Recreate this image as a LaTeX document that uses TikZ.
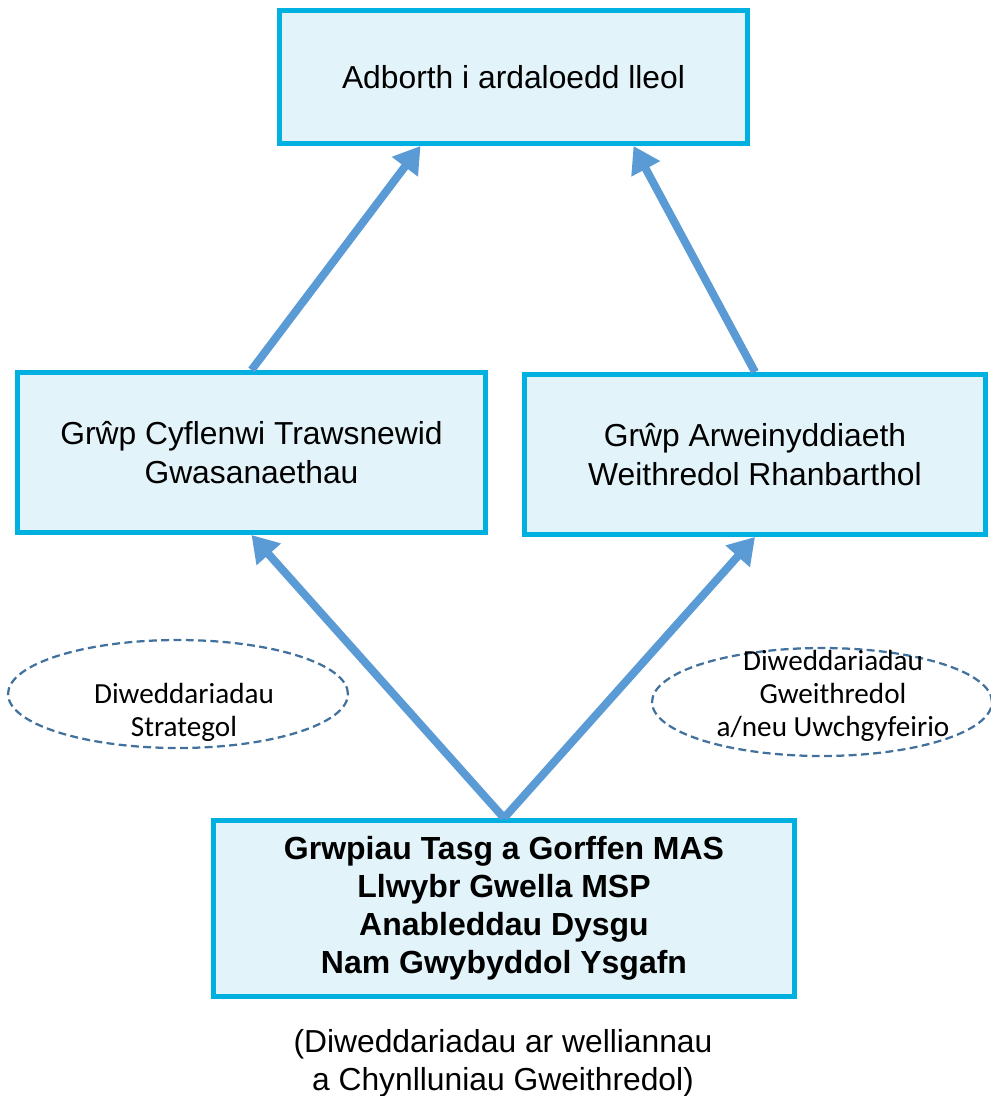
\documentclass[tikz,border=0pt]{standalone}
\usepackage{fontspec}
\setmainfont{Liberation Sans}
\newfontfamily\notefont{Carlito}
\usetikzlibrary{arrows.meta,calc,shapes.geometric}

\begin{document}
\begin{tikzpicture}[x=0.02cm,y=-0.02cm,
  groupbox/.style={shape=rectangle,draw=grp_border,fill=grp_fill,line width=0.1cm,align=center,
    font=\fontsize{18.1}{22.6}\selectfont},
  upflow/.style={-{Triangle[length=0.52cm,width=0.62cm]},line width=0.16cm,color=grp_arrow},
  noteoval/.style={shape=ellipse,draw=grp_note,dash pattern=on 4.5pt off 2.5pt,line width=0.045cm,inner sep=0pt,
    minimum width=6.8cm,minimum height=2.16cm},
  notetext/.style={align=center,font=\notefont\fontsize{16.6}{18.8}\selectfont}]
\definecolor{grp_border}{RGB}{0,176,224}
\definecolor{grp_fill}{RGB}{226,244,250}
\definecolor{grp_arrow}{RGB}{91,155,213}
\definecolor{grp_note}{RGB}{65,113,156}
\useasboundingbox (0,0) rectangle (991,1096);

\node[groupbox,minimum width=9.36cm,minimum height=2.66cm] (adborth) at (513.5,77) {Adborth i ardaloedd lleol};
\node[groupbox,minimum width=9.36cm,minimum height=3.2cm] (cyflenwi) at (251.5,452.5) {Grŵp Cyflenwi Trawsnewid\\Gwasanaethau};
\node[groupbox,minimum width=9.22cm,minimum height=3.2cm] (arwein) at (755,454.5) {Grŵp Arweinyddiaeth\\Weithredol Rhanbarthol};
\node[groupbox,minimum width=11.62cm,minimum height=3.52cm,font=\bfseries\fontsize{18.2}{21.6}\selectfont] (tasg) at (504,908.5)
  {Grwpiau Tasg a Gorffen MAS\\Llwybr Gwella MSP\\Anableddau Dysgu\\Nam Gwybyddol Ysgafn};

% updates feeding upwards
\node[noteoval] (strat) at (178,694) {};
\node[notetext] at (184,712) {Diweddariadau\\Strategol};
\node[noteoval] (gweith) at (822,702) {};
\node[notetext] at (833,696) {Diweddariadau\\Gweithredol\\a/neu Uwchgyfeirio};

\draw[upflow] (tasg.north) to (cyflenwi.south);
\draw[upflow] (tasg.north) to (arwein.south);
\draw[upflow] (cyflenwi.north) to ($(adborth.south)+(-93,0)$);
\draw[upflow] (arwein.north) to ($(adborth.south)+(120,0)$);

\node[align=center,font=\fontsize{18.1}{21.6}\selectfont] (nodyn) at (503,1063) {(Diweddariadau ar welliannau\\a Chynlluniau Gweithredol)};
\end{tikzpicture}
\end{document}
